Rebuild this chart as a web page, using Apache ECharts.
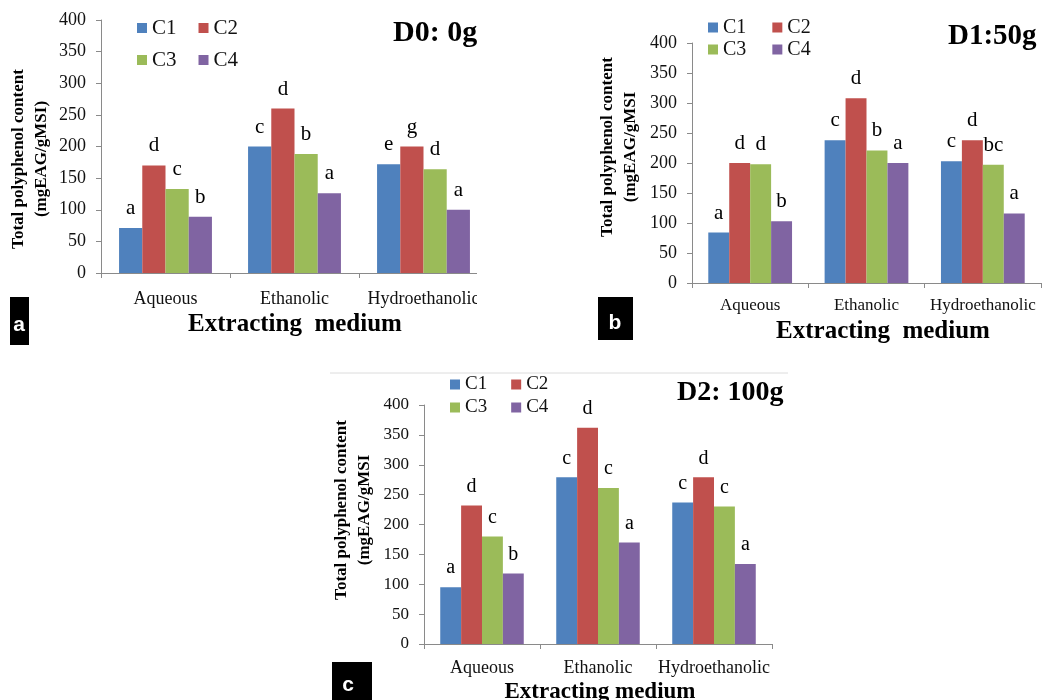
<!DOCTYPE html>
<html>
<head>
<meta charset="utf-8">
<script src="https://cdn.jsdelivr.net/npm/echarts@6/dist/echarts.min.js"></script>
<style>
  html, body { margin: 0; padding: 0; background: #fff; }
  #main { width: 1045px; height: 700px; }
</style>
</head>
<body>
<div id="main"></div>
<script>
// data (D0, D1, D2)
const categories = ['Aqueous', 'Ethanolic', 'Hydroethanolic'];
const groups = ['C1', 'C2', 'C3', 'C4'];
const yTicks = [0, 50, 100, 150, 200, 250, 300, 350, 400];

// values per group: C1, C2, C3, C4 over the categories
const valuesD0 = [[71, 200, 172], [170, 260, 200], [133, 188, 164], [89, 126, 100]];
const valuesD1 = [[84, 238, 203], [200, 308, 238], [198, 221, 197], [103, 200, 116]];
const valuesD2 = [[95, 279, 237], [232, 362, 279], [180, 261, 230], [118, 170, 134]];

// significance letters above the bars
const lettersD0 = [['a', 'c', 'e'], ['d', 'd', 'g'], ['c', 'b', 'd'], ['b', 'a', 'a']];
const lettersD1 = [['a', 'c', 'c'], ['d', 'd', 'd'], ['d', 'b', 'bc'], ['b', 'a', 'a']];
const lettersD2 = [['a', 'c', 'c'], ['d', 'd', 'd'], ['c', 'c', 'c'], ['b', 'a', 'a']];

const colors = ['#4F81BD', '#C0504D', '#9BBB59', '#8064A2'];
const serif = 'Liberation Serif';

const panels = [
  {
    values: valuesD0, letters: lettersD0,
    grid: { left: 101, top: 20, width: 387, height: 253 },
    tick: 18, cat: 18, catMargin: 17, letter: 21,
    legend: { left: 137, top: [17.5, 49.5], size: 21, gap: 22 }
  },
  {
    values: valuesD1, letters: lettersD1,
    grid: { left: 692, top: 43, width: 349, height: 240 },
    tick: 18, cat: 17, catMargin: 14, letter: 21,
    legend: { left: 708, top: [17.5, 39.5], size: 20, gap: 26 }
  },
  {
    values: valuesD2, letters: lettersD2,
    grid: { left: 424, top: 405, width: 348, height: 239 },
    tick: 17, cat: 18, catMargin: 15, letter: 20,
    legend: { left: 450, top: [375, 398], size: 19, gap: 24 }
  }
];

const axisGray = '#8a8a8a';

const grids = [], xAxes = [], yAxes = [], series = [], legends = [];

panels.forEach((p, k) => {
  grids.push(Object.assign({ containLabel: false }, p.grid));
  xAxes.push({
    type: 'category',
    gridIndex: k,
    data: categories,
    axisLine: { lineStyle: { color: axisGray, width: 1 } },
    axisTick: { show: true, length: 5, lineStyle: { color: axisGray } },
    axisLabel: { color: '#111', fontFamily: serif, fontSize: p.cat, margin: p.catMargin, interval: 0 },
    splitLine: { show: false }
  });
  yAxes.push({
    type: 'value',
    gridIndex: k,
    min: yTicks[0],
    max: yTicks[yTicks.length - 1],
    interval: yTicks[1] - yTicks[0],
    axisLine: { show: true, lineStyle: { color: axisGray, width: 1 } },
    axisTick: { show: true, length: 5, lineStyle: { color: axisGray } },
    axisLabel: { color: '#111', fontFamily: serif, fontSize: p.tick, margin: 15 },
    splitLine: { show: false }
  });
  groups.forEach((g, i) => {
    series.push({
      name: g,
      type: 'bar',
      xAxisIndex: k,
      yAxisIndex: k,
      data: p.values[i],
      barGap: '0%',
      barCategoryGap: '28%',
      itemStyle: { color: colors[i] },
      label: {
        show: true,
        position: 'top',
        distance: 9,
        color: '#000',
        fontFamily: serif,
        fontSize: p.letter,
        formatter: (params) => p.letters[i][params.dataIndex]
      }
    });
  });
  [['C1', 'C2'], ['C3', 'C4']].forEach((row, r) => {
    legends.push({
      data: row,
      left: p.legend.left,
      top: p.legend.top[r],
      padding: 0,
      orient: 'horizontal',
      itemWidth: 10,
      itemHeight: 10,
      itemGap: p.legend.gap,
      icon: 'rect',
      selectedMode: false,
      textStyle: { color: '#111', fontFamily: serif, fontSize: p.legend.size, lineHeight: p.legend.size }
    });
  });
});

function yName(x, y, lines, size) {
  return {
    type: 'text',
    x: x, y: y,
    rotation: Math.PI / 2,
    style: {
      text: lines,
      fontFamily: serif,
      fontWeight: 'bold',
      fontSize: size,
      lineHeight: 23,
      fill: '#000',
      align: 'center',
      verticalAlign: 'middle'
    }
  };
}

function plainText(x, y, text, size, opts) {
  return {
    type: 'text',
    x: x, y: y,
    z: 10,
    style: Object.assign({
      text: text,
      fontFamily: serif,
      fontWeight: 'bold',
      fontSize: size,
      fill: '#000',
      align: 'left',
      verticalAlign: 'middle'
    }, opts || {})
  };
}

function tagBox(x, y, w, h, letter, tx, ty) {
  return [
    { type: 'rect', z: 30, shape: { x: x, y: y, width: w, height: h }, style: { fill: '#000' } },
    {
      type: 'text', z: 31, x: tx, y: ty,
      style: { text: letter, fontFamily: 'Liberation Sans', fontWeight: 'bold', fontSize: 21, fill: '#fff', align: 'center', verticalAlign: 'middle' }
    }
  ];
}

const graphics = [
  yName(30, 159, 'Total polyphenol content\n(mgEAG/gMSI)', 17),
  yName(619, 147, 'Total polyphenol content\n(mgEAG/gMSI', 17),
  yName(353, 510, 'Total polyphenol content\n(mgEAG/gMSI', 17),
  plainText(393, 33, 'D0: 0g', 30),
  plainText(948, 37, 'D1:50g', 29),
  plainText(677, 393, 'D2: 100g', 28),
  plainText(295, 325, 'Extracting  medium', 25, { align: 'center' }),
  plainText(883, 332, 'Extracting  medium', 25, { align: 'center' }),
  plainText(600, 692, 'Extracting medium', 23, { align: 'center' }),
  // crop at right edge of panel a
  { type: 'rect', z: 20, shape: { x: 477, y: 0, width: 30, height: 350 }, style: { fill: '#fff' } },
  // top border of panel c
  { type: 'line', shape: { x1: 330, y1: 373, x2: 788, y2: 373 }, style: { stroke: '#dcdcdc', lineWidth: 1 } }
].concat(
  tagBox(10, 297, 19, 48, 'a', 19, 325),
  tagBox(598, 297, 35, 43, 'b', 615, 323),
  tagBox(332, 662, 40, 38, 'c', 348, 685)
);

const chart = echarts.init(document.getElementById('main'));
chart.setOption({
  backgroundColor: '#fff',
  animation: false,
  grid: grids,
  xAxis: xAxes,
  yAxis: yAxes,
  legend: legends,
  series: series,
  graphic: graphics
});
window.addEventListener('resize', () => chart.resize());
</script>
</body>
</html>
